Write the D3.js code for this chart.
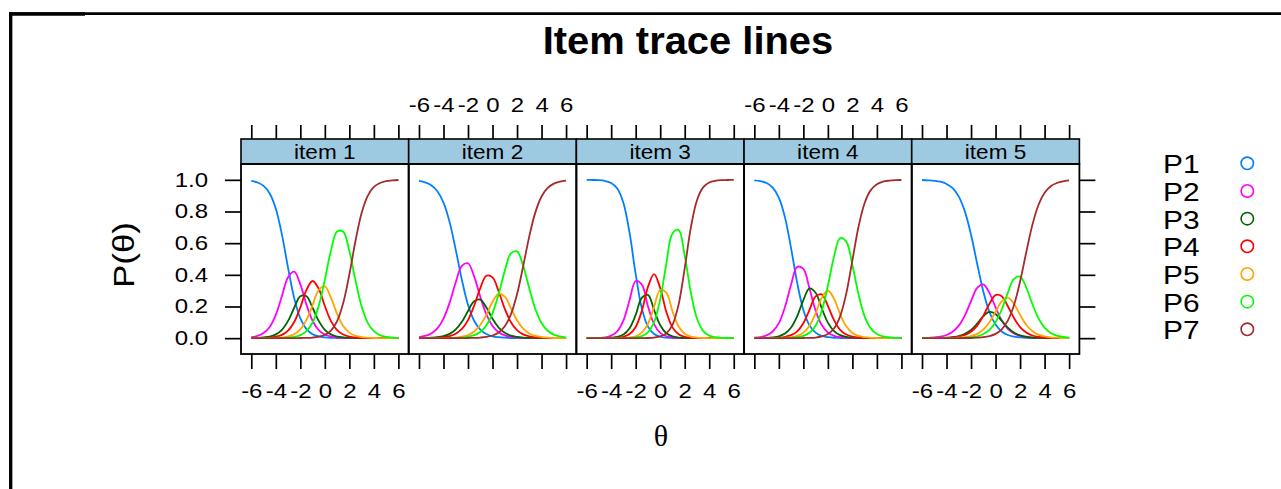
<!DOCTYPE html>
<html>
<head>
<meta charset="utf-8">
<script src="https://cdn.jsdelivr.net/npm/d3@7"></script>
<style>
  html, body { margin: 0; padding: 0; background: #fff; }
  svg { display: block; font-family: "Liberation Sans", Arial, sans-serif; }
</style>
</head>
<body>
<svg id="chart" width="1281" height="489"></svg>
<script>
// --- 1. data ---
const THETA = [-6, -5.5, -5, -4.5, -4, -3.5, -3, -2.5, -2, -1.5, -1, -0.5, 0,
               0.5, 1, 1.5, 2, 2.5, 3, 3.5, 4, 4.5, 5, 5.5, 6];
const ITEMS = ["item 1", "item 2", "item 3", "item 4", "item 5"];
const CATEGORIES = ["P1", "P2", "P3", "P4", "P5", "P6", "P7"];
const COLORS = ["#0080ff", "#ff00ff", "#006400", "#ff0000", "#ffa500", "#00ff00", "#a52a2a"];
const X_TICKS = [-6, -4, -2, 0, 2, 4, 6];
const Y_TICKS = [0, 0.2, 0.4, 0.6, 0.8, 1.0];

// one row per category P1..P7, one value per THETA
const ITEM1 = [
  [.993,.983,.962,.914,.818,.654,.444,.253,.125,.057,.025,.011,.005,.002,.001,0,0,0,0,0,0,0,0,0,0],
  [.006,.014,.032,.071,.147,.266,.385,.420,.340,.212,.110,.051,.023,.010,.004,.002,.001,0,0,0,0,0,0,0,0],
  [.001,.002,.005,.010,.024,.053,.109,.192,.265,.265,.192,.109,.053,.024,.010,.005,.002,.001,0,0,0,0,0,0,0],
  [0,.001,.002,.004,.009,.021,.048,.102,.194,.305,.361,.312,.203,.108,.051,.023,.010,.004,.002,.001,0,0,0,0,0],
  [0,0,0,.001,.002,.005,.011,.025,.055,.115,.209,.304,.327,.255,.153,.077,.035,.015,.007,.003,.001,0,0,0,0],
  [0,0,0,0,.001,.001,.004,.008,.019,.045,.099,.204,.369,.553,.674,.672,.550,.365,.201,.097,.044,.019,.008,.004,.002],
  [0,0,0,0,0,0,0,0,.001,.002,.004,.009,.021,.048,.108,.222,.402,.614,.790,.899,.955,.980,.992,.996,.999]
];
const ITEM2 = [
  [.993,.984,.966,.928,.856,.733,.558,.368,.211,.110,.054,.026,.012,.006,.003,.001,0,0,0,0,0,0,0,0,0],
  [.007,.014,.030,.062,.124,.224,.353,.457,.473,.390,.262,.150,.077,.038,.018,.008,.004,.002,.001,0,0,0,0,0,0],
  [.001,.001,.003,.006,.013,.027,.055,.103,.172,.233,.243,.193,.122,.067,.034,.016,.008,.004,.002,.001,0,0,0,0,0],
  [0,.001,.001,.003,.006,.013,.028,.058,.114,.205,.316,.394,.384,.295,.185,.101,.051,.024,.011,.005,.003,.001,.001,0,0],
  [0,0,0,0,.001,.002,.004,.010,.020,.042,.083,.149,.229,.280,.262,.189,.113,.060,.029,.014,.007,.003,.001,.001,0],
  [0,0,0,0,0,.001,.002,.004,.009,.019,.039,.081,.158,.279,.425,.535,.548,.457,.314,.183,.096,.047,.022,.011,.005],
  [0,0,0,0,0,0,0,0,.001,.002,.004,.008,.017,.036,.075,.150,.277,.454,.643,.796,.895,.949,.976,.989,.995]
];
const ITEM3 = [
  [1.000,.999,.998,.993,.980,.945,.854,.666,.404,.188,.073,.026,.009,.003,.001,0,0,0,0,0,0,0,0,0,0],
  [0,.001,.002,.005,.016,.043,.112,.240,.361,.339,.202,.089,.033,.012,.004,.001,.001,0,0,0,0,0,0,0,0],
  [0,0,0,.001,.003,.008,.023,.063,.147,.254,.273,.178,.082,.031,.011,.004,.001,.001,0,0,0,0,0,0,0],
  [0,0,0,0,.001,.003,.009,.026,.071,.172,.323,.405,.317,.166,.068,.025,.009,.003,.001,0,0,0,0,0,0],
  [0,0,0,0,0,.001,.002,.004,.012,.035,.090,.198,.304,.288,.170,.074,.028,.010,.003,.001,0,0,0,0,0],
  [0,0,0,0,0,0,0,.002,.005,.013,.037,.101,.244,.470,.661,.684,.521,.289,.124,.046,.016,.006,.002,.001,0],
  [0,0,0,0,0,0,0,0,0,0,.001,.004,.011,.030,.084,.212,.441,.698,.871,.952,.983,.994,.998,.999,1.000]
];
const ITEM4 = [
  [.997,.992,.980,.951,.888,.763,.567,.348,.178,.081,.035,.014,.006,.002,.001,0,0,0,0,0,0,0,0,0,0],
  [.003,.007,.018,.042,.095,.197,.339,.450,.437,.313,.174,.083,.036,.015,.006,.003,.001,0,0,0,0,0,0,0,0],
  [0,.001,.002,.005,.012,.029,.067,.139,.241,.314,.287,.189,.098,.045,.019,.008,.003,.001,.001,0,0,0,0,0,0],
  [0,0,.001,.001,.003,.008,.019,.043,.094,.179,.264,.277,.204,.114,.053,.023,.010,.004,.002,.001,0,0,0,0,0],
  [0,0,0,0,.001,.003,.006,.015,.035,.078,.157,.254,.301,.249,.151,.075,.033,.014,.006,.002,.001,0,0,0,0],
  [0,0,0,0,0,.001,.002,.006,.014,.034,.079,.173,.330,.515,.632,.610,.462,.277,.138,.062,.026,.011,.005,.002,.001],
  [0,0,0,0,0,0,0,0,.001,.002,.004,.011,.026,.061,.138,.282,.491,.704,.854,.935,.972,.989,.995,.998,.999]
];
const ITEM5 = [
  [.999,.997,.994,.988,.974,.947,.894,.799,.653,.470,.295,.165,.086,.042,.020,.010,.005,.002,.001,0,0,0,0,0,0],
  [.001,.002,.005,.009,.020,.040,.079,.144,.234,.317,.340,.286,.194,.113,.059,.030,.014,.007,.003,.002,.001,0,0,0,0],
  [0,0,.001,.002,.003,.007,.013,.027,.052,.092,.139,.166,.153,.110,.066,.035,.018,.009,.004,.002,.001,0,0,0,0],
  [0,0,.001,.001,.002,.005,.010,.020,.041,.079,.141,.217,.272,.265,.202,.127,.070,.036,.017,.008,.004,.002,.001,0,0],
  [0,0,0,0,.001,.001,.003,.006,.013,.027,.054,.100,.167,.233,.256,.217,.147,.085,.045,.022,.011,.005,.003,.001,.001],
  [0,0,0,0,0,.001,.001,.003,.006,.012,.026,.052,.101,.181,.286,.374,.389,.321,.216,.125,.066,.033,.016,.008,.004],
  [0,0,0,0,0,0,0,.001,.001,.003,.006,.013,.027,.056,.111,.208,.358,.541,.714,.841,.918,.960,.980,.991,.996]
];
const TRACES = [ITEM1, ITEM2, ITEM3, ITEM4, ITEM5];

// --- 2. layout ---
const svg = d3.select("#chart");
const FONT = '"Liberation Sans", Arial, sans-serif';
const stripTop = 139, panelTop = 164, panelBottom = 354;

const panelX = d3.scaleBand().domain(ITEMS).range([241, 1079.4]).padding(0);
const y = d3.scaleLinear().domain([-0.1, 1.1]).range([panelBottom, panelTop]);

// the reference glyphs are drawn wider than Liberation Sans: widen text around its anchor
function stretch(sel, sx) {
  sel.each(function () {
    const t = d3.select(this);
    const x = +t.attr("x") || 0;
    t.attr("transform", `translate(${x},0) scale(${sx},1) translate(${-x},0)`);
  });
}

// outer frame (only top and left edges show in the picture)
svg.append("line").attr("x1", 9).attr("x2", 1281).attr("y1", 13.6).attr("y2", 13.6)
  .attr("stroke", "#000").attr("stroke-width", 2.6);
svg.append("line").attr("x1", 9).attr("x2", 85).attr("y1", 14).attr("y2", 14)
  .attr("stroke", "#000").attr("stroke-width", 3.4);
svg.append("line").attr("x1", 10.7).attr("x2", 10.7).attr("y1", 12.3).attr("y2", 489)
  .attr("stroke", "#000").attr("stroke-width", 3.3);

// title
svg.append("text").attr("x", 688).attr("y", 54).attr("text-anchor", "middle")
  .attr("font-size", 38).attr("font-weight", "bold").attr("font-family", FONT)
  .text("Item trace lines")
  .call(stretch, 1.05);

const line = d3.line().curve(d3.curveCatmullRom.alpha(0.5));

function styleAxis(g) {
  g.select(".domain").remove();
  g.selectAll(".tick line").attr("stroke", "#000").attr("stroke-width", 1.7);
  g.selectAll(".tick text").attr("fill", "#000").call(stretch, 1.2);
  g.attr("font-size", 20).attr("font-family", FONT);
}

// --- 3. panels ---
ITEMS.forEach((item, i) => {
  const x0 = panelX(item), bw = panelX.bandwidth();
  const x = d3.scaleLinear().domain([-6.84, 6.84]).range([x0, x0 + bw]);
  const g = svg.append("g");

  // strip
  g.append("rect").attr("x", x0).attr("y", stripTop).attr("width", bw)
    .attr("height", panelTop - stripTop).attr("fill", "#9ecae1");
  g.append("text").attr("x", x0 + bw / 2).attr("y", 159).attr("text-anchor", "middle")
    .attr("font-size", 20).attr("font-family", FONT).text(item)
    .call(stretch, 1.13);

  // trace lines
  TRACES[i].forEach((vals, k) => {
    g.append("path")
      .attr("d", line(THETA.map((t, j) => [x(t), y(vals[j])])))
      .attr("fill", "none").attr("stroke", COLORS[k]).attr("stroke-width", 1.8);
  });

  // borders
  g.append("rect").attr("x", x0).attr("y", stripTop).attr("width", bw)
    .attr("height", panelTop - stripTop).attr("fill", "none")
    .attr("stroke", "#000").attr("stroke-width", 1.6);
  g.append("rect").attr("x", x0).attr("y", panelTop).attr("width", bw)
    .attr("height", panelBottom - panelTop).attr("fill", "none")
    .attr("stroke", "#000").attr("stroke-width", 1.8);

  // x axes: labels alternate bottom (1,3,5) / top (2,4)
  const fmt = d => String(d);
  svg.append("g").attr("transform", `translate(0,${panelBottom})`)
    .call(d3.axisBottom(x).tickValues(X_TICKS).tickSize(15).tickPadding(15)
      .tickFormat(i % 2 === 0 ? fmt : () => ""))
    .call(styleAxis);
  svg.append("g").attr("transform", `translate(0,${stripTop})`)
    .call(d3.axisTop(x).tickValues(X_TICKS).tickSize(14).tickPadding(13)
      .tickFormat(i % 2 === 1 ? fmt : () => ""))
    .call(styleAxis);

  if (i === 0) {
    svg.append("g").attr("transform", `translate(${x0},0)`)
      .call(d3.axisLeft(y).tickValues(Y_TICKS).tickSize(16).tickPadding(17)
        .tickFormat(d3.format(".1f")))
      .call(styleAxis);
  }
  if (i === ITEMS.length - 1) {
    svg.append("g").attr("transform", `translate(${x0 + bw},0)`)
      .call(d3.axisRight(y).tickValues(Y_TICKS).tickSize(16).tickFormat(() => ""))
      .call(styleAxis);
  }
});

// axis titles
svg.append("text").attr("transform", "translate(134,255) rotate(-90) scale(1.16,1)")
  .attr("text-anchor", "middle").attr("font-size", 30).attr("font-family", FONT)
  .text("P(\u03b8)");
svg.append("text").attr("x", 661).attr("y", 446).attr("text-anchor", "middle")
  .attr("font-size", 30).attr("font-family", '"Liberation Serif", "Times New Roman", serif')
  .text("\u03b8");

// --- 4. legend ---
const legendY = d3.scalePoint().domain(CATEGORIES).range([163.3, 329.3]);
const legend = svg.append("g");
CATEGORIES.forEach((c, k) => {
  legend.append("text").attr("x", 1163).attr("y", legendY(c) + 10)
    .attr("font-size", 26).attr("font-family", FONT).text(c)
    .call(stretch, 1.15);
  legend.append("circle").attr("cx", 1247.3).attr("cy", legendY(c)).attr("r", 6.2)
    .attr("fill", "none").attr("stroke", COLORS[k]).attr("stroke-width", 1.6);
});
</script>
</body>
</html>
